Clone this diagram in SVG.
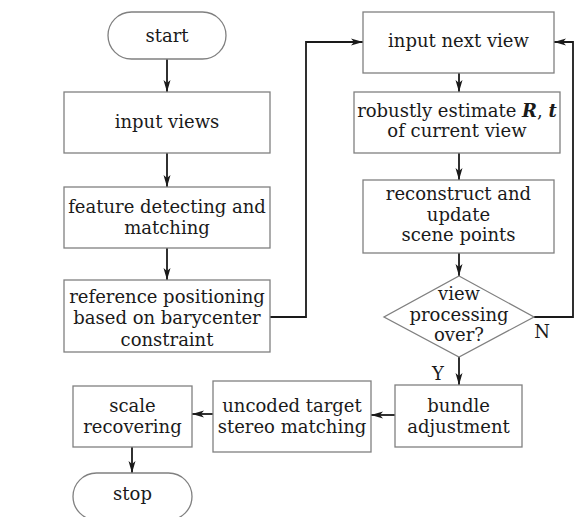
<svg xmlns="http://www.w3.org/2000/svg" width="585" height="517" viewBox="0 0 585 517">
<defs>
<marker id="arr" markerUnits="userSpaceOnUse" markerWidth="14" markerHeight="10" refX="12" refY="5" orient="auto">
<path d="M0,1.5 L12,5 L0,8.5 L3,5 Z" fill="#1a1a1a"/>
</marker>
<style>
.box{fill:#fff;stroke:#808080;stroke-width:1.3}
.t{font-family:"DejaVu Serif","Liberation Serif",serif;font-size:18px;fill:#1a1a1a;text-anchor:middle}
.c{fill:none;stroke:#1a1a1a;stroke-width:1.8}
.bi{font-weight:bold;font-style:italic}
</style>
</defs>
<rect width="585" height="517" fill="#fff"/>
<g id="connectors">
<line class="c" x1="167" y1="59" x2="167" y2="92" marker-end="url(#arr)"/>
<line class="c" x1="167" y1="153" x2="167" y2="187" marker-end="url(#arr)"/>
<line class="c" x1="167" y1="248" x2="167" y2="280" marker-end="url(#arr)"/>
<polyline class="c" points="270,317 306,317 306,42 363,42" marker-end="url(#arr)"/>
<line class="c" x1="459" y1="73" x2="459" y2="92" marker-end="url(#arr)"/>
<line class="c" x1="459" y1="153" x2="459" y2="180" marker-end="url(#arr)"/>
<line class="c" x1="459" y1="253" x2="459" y2="276" marker-end="url(#arr)"/>
<polyline class="c" points="534,317 573,317 573,42 554,42" marker-end="url(#arr)"/>
<line class="c" x1="459" y1="357" x2="459" y2="385" marker-end="url(#arr)"/>
<line class="c" x1="395" y1="415" x2="371" y2="415" marker-end="url(#arr)"/>
<line class="c" x1="213" y1="414" x2="192" y2="414" marker-end="url(#arr)"/>
<line class="c" x1="132" y1="447" x2="132" y2="473" marker-end="url(#arr)"/>
<text class="t" x="542" y="338">N</text>
<text class="t" x="438" y="380">Y</text>
</g>
<g id="start">
<rect class="box" x="108" y="12" width="118" height="47" rx="23.5"/>
<text class="t" x="167" y="42">start</text>
</g>
<g id="input-views">
<rect class="box" x="64" y="92" width="206" height="61"/>
<text class="t" x="167" y="128">input views</text>
</g>
<g id="feature">
<rect class="box" x="64" y="187" width="206" height="61"/>
<text class="t" x="167" y="213">feature detecting and</text>
<text class="t" x="167" y="234">matching</text>
</g>
<g id="reference">
<rect class="box" x="64" y="280" width="206" height="72"/>
<text class="t" x="167" y="303">reference positioning</text>
<text class="t" x="167" y="324">based on barycenter</text>
<text class="t" x="167" y="346">constraint</text>
</g>
<g id="input-next">
<rect class="box" x="363" y="12" width="191" height="61"/>
<text class="t" x="458.5" y="47">input next view</text>
</g>
<g id="robust">
<rect class="box" x="354" y="92" width="206" height="61"/>
<text class="t" x="457" y="117">robustly estimate <tspan class="bi">R</tspan>, <tspan class="bi">t</tspan></text>
<text class="t" x="457" y="137">of current view</text>
</g>
<g id="reconstruct">
<rect class="box" x="363" y="180" width="191" height="73"/>
<text class="t" x="458.5" y="200">reconstruct and</text>
<text class="t" x="458.5" y="220.5">update</text>
<text class="t" x="458.5" y="241">scene points</text>
</g>
<g id="decision">
<polygon class="box" points="459,276 534,317 459,357 384,317"/>
<text class="t" x="459" y="300">view</text>
<text class="t" x="459" y="321">processing</text>
<text class="t" x="459" y="341">over?</text>
</g>
<g id="bundle">
<rect class="box" x="395" y="385" width="127" height="62"/>
<text class="t" x="458.5" y="412">bundle</text>
<text class="t" x="458.5" y="433">adjustment</text>
</g>
<g id="uncoded">
<rect class="box" x="213" y="381" width="158" height="71"/>
<text class="t" x="292" y="412">uncoded target</text>
<text class="t" x="292" y="433">stereo matching</text>
</g>
<g id="scale">
<rect class="box" x="73" y="386" width="119" height="61"/>
<text class="t" x="132.5" y="412">scale</text>
<text class="t" x="132.5" y="433">recovering</text>
</g>
<g id="stop">
<rect class="box" x="73" y="473" width="119" height="47" rx="23.5"/>
<text class="t" x="132.5" y="500">stop</text>
</g>
</svg>
